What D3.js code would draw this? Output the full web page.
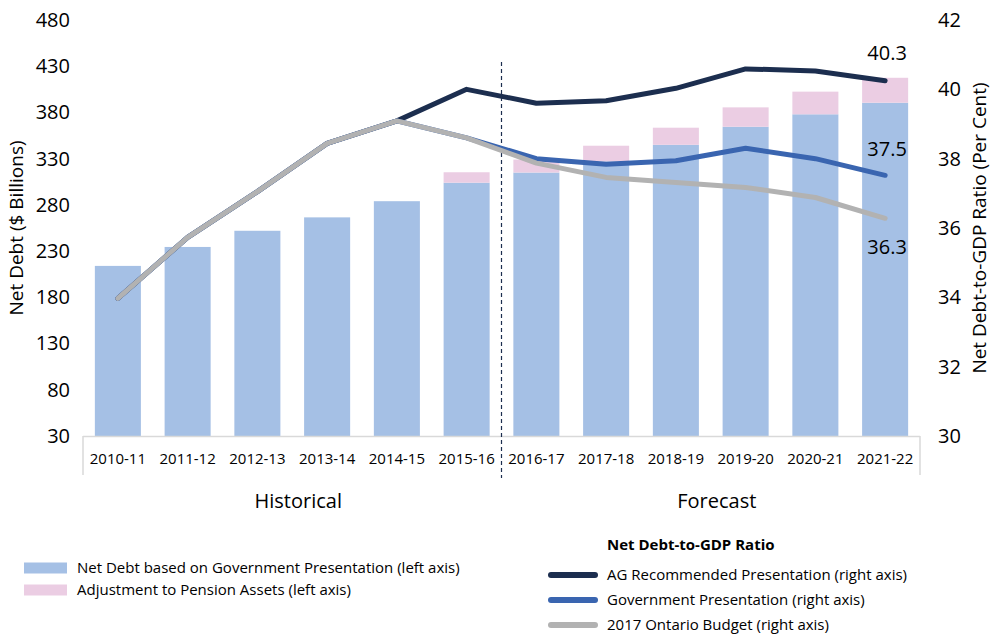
<!DOCTYPE html>
<html>
<head>
<meta charset="utf-8">
<script src="https://cdn.jsdelivr.net/npm/d3@7"></script>
<style>
  body { margin: 0; background: #fff; }
  svg { font-family: "Open Sans", "Noto Sans", sans-serif; }
</style>
</head>
<body>
<div id="chart"></div>
<script>
// data
let years = ["2010-11", "2011-12", "2012-13", "2013-14", "2014-15", "2015-16",
  "2016-17", "2017-18", "2018-19", "2019-20", "2020-21", "2021-22"];
let netDebtGov = [214, 234.5, 252, 266.5, 284, 304, 315, 327, 345, 364.5, 378, 390.5];
let pensionAdj = [0, 0, 0, 0, 0, 11.3, 14, 17, 18.5, 21, 24.5, 27];
let agRatio = [33.97, 35.73, 37.05, 38.44, 39.09, 40.0, 39.6, 39.67, 40.03, 40.59, 40.53, 40.25];
let govRatio = [33.97, 35.73, 37.05, 38.44, 39.09, 38.6, 38.0, 37.84, 37.94, 38.3, 38.0, 37.52];
let budgetRatio = [33.97, 35.73, 37.05, 38.44, 39.09, 38.6, 37.87, 37.46, 37.31, 37.17, 36.88, 36.28];
let leftTicks = [30, 80, 130, 180, 230, 280, 330, 380, 430, 480];
let rightTicks = [30, 32, 34, 36, 38, 40, 42];

let svgWidth = 993;
let svgHeight = 636;
let plot = { left: 83, right: 920, top: 20, bottom: 436 };

let colors = {
  bar: "#a5c0e5",
  pink: "#ebcde3",
  ag: "#1c2e4f",
  gov: "#3a65b0",
  budget: "#b2b2b2",
  axis: "#d9d9d9",
};

let svg = d3.select("#chart").append("svg")
  .attr("width", svgWidth)
  .attr("height", svgHeight);

// scales
let x = d3.scaleBand()
  .domain(years)
  .range([plot.left, plot.right])
  .paddingInner(0.34)
  .paddingOuter(0.17);

let yLeft = d3.scaleLinear().domain([30, 480]).range([plot.bottom, plot.top]);
let yRight = d3.scaleLinear().domain([30, 42]).range([plot.bottom, plot.top]);

let cx = (d) => x(d) + x.bandwidth() / 2;

// bars (stacked: gov presentation + pension adjustment)
let barData = years.map((y, i) => ({ year: y, base: netDebtGov[i], adj: pensionAdj[i] }));

svg.append("g").selectAll("rect")
  .data(barData)
  .enter()
  .append("rect")
  .attr("x", (d) => x(d.year))
  .attr("width", x.bandwidth())
  .attr("y", (d) => yLeft(d.base))
  .attr("height", (d) => yLeft(30) - yLeft(d.base))
  .attr("fill", colors.bar);

svg.append("g").selectAll("rect")
  .data(barData.filter((d) => d.adj > 0))
  .enter()
  .append("rect")
  .attr("x", (d) => x(d.year))
  .attr("width", x.bandwidth())
  .attr("y", (d) => yLeft(d.base + d.adj))
  .attr("height", (d) => yLeft(d.base) - yLeft(d.base + d.adj))
  .attr("fill", colors.pink);

// category box under the plot
let boxBottom = 475;
let box = svg.append("g").attr("stroke", colors.axis).attr("stroke-width", 1.5).attr("fill", "none");
box.append("line").attr("x1", plot.left).attr("x2", plot.right).attr("y1", plot.bottom + 0.5).attr("y2", plot.bottom + 0.5);
box.append("line").attr("x1", plot.left).attr("x2", plot.left).attr("y1", plot.bottom).attr("y2", boxBottom);
box.append("line").attr("x1", plot.right).attr("x2", plot.right).attr("y1", plot.bottom).attr("y2", boxBottom);

// x labels
let xAxis = svg.append("g")
  .attr("transform", `translate(0, ${plot.bottom})`)
  .call(d3.axisBottom(x).tickSize(0).tickPadding(17));
xAxis.select(".domain").remove();
xAxis.selectAll("text")
  .attr("font-size", "15px")
  .attr("font-family", "Open Sans")
  .attr("fill", "#000");

// left axis
let leftAxis = svg.append("g")
  .attr("transform", `translate(${plot.left}, 0)`)
  .call(d3.axisLeft(yLeft).tickValues(leftTicks).tickSize(0).tickPadding(13));
leftAxis.select(".domain").remove();
leftAxis.selectAll("text")
  .attr("font-size", "20px")
  .attr("font-family", "Open Sans")
  .attr("fill", "#000");

// right axis
let rightAxis = svg.append("g")
  .attr("transform", `translate(${plot.right}, 0)`)
  .call(d3.axisRight(yRight).tickValues(rightTicks).tickSize(0).tickPadding(18));
rightAxis.select(".domain").remove();
rightAxis.selectAll("text")
  .attr("font-size", "20px")
  .attr("font-family", "Open Sans")
  .attr("fill", "#000");

// axis titles
svg.append("text")
  .attr("transform", "translate(23, 228) rotate(-90)")
  .attr("text-anchor", "middle")
  .attr("font-size", "19px")
  .text("Net Debt ($ Billions)");

svg.append("text")
  .attr("transform", "translate(986, 228) rotate(-90)")
  .attr("text-anchor", "middle")
  .attr("font-size", "19px")
  .text("Net Debt-to-GDP Ratio (Per Cent)");

// historical / forecast divider
let divX = x(years[6]) - x.step() * x.paddingInner() / 2;
svg.append("line")
  .attr("x1", divX).attr("x2", divX)
  .attr("y1", 62).attr("y2", 478)
  .attr("stroke", colors.ag)
  .attr("stroke-width", 1.2)
  .attr("stroke-dasharray", "4,3");

svg.append("text")
  .attr("x", (plot.left + divX) / 2 + 6)
  .attr("y", 508)
  .attr("text-anchor", "middle")
  .attr("font-size", "20px")
  .text("Historical");

svg.append("text")
  .attr("x", (divX + plot.right) / 2 + 6)
  .attr("y", 508)
  .attr("text-anchor", "middle")
  .attr("font-size", "20px")
  .text("Forecast");

// ratio lines
let line = d3.line()
  .x((d, i) => cx(years[i]))
  .y((d) => yRight(d));

let series = [
  { values: agRatio, color: colors.ag },
  { values: govRatio, color: colors.gov },
  { values: budgetRatio, color: colors.budget },
];

svg.append("g").selectAll("path")
  .data(series)
  .enter()
  .append("path")
  .attr("d", (d) => line(d.values))
  .attr("fill", "none")
  .attr("stroke", (d) => d.color)
  .attr("stroke-width", 5)
  .attr("stroke-linejoin", "round")
  .attr("stroke-linecap", "round");

// end labels
let last = years.length - 1;
let endLabels = [
  { v: agRatio[last], dy: -21 },
  { v: govRatio[last], dy: -19 },
  { v: budgetRatio[last], dy: 36 },
];
svg.append("g").selectAll("text")
  .data(endLabels)
  .enter()
  .append("text")
  .attr("x", cx(years[last]) + 2)
  .attr("y", (d) => yRight(d.v) + d.dy)
  .attr("text-anchor", "middle")
  .attr("font-size", "20px")
  .text((d) => d.v.toFixed(1));

// legend, left block (bars)
let barLegend = [
  { label: "Net Debt based on Government Presentation (left axis)", color: colors.bar, y: 568 },
  { label: "Adjustment to Pension Assets (left axis)", color: colors.pink, y: 590 },
];
let bl = svg.append("g").selectAll("g").data(barLegend).enter().append("g");
bl.append("rect")
  .attr("x", 24).attr("y", (d) => d.y - 5.5)
  .attr("width", 43).attr("height", 11)
  .attr("fill", (d) => d.color);
bl.append("text")
  .attr("x", 77).attr("y", (d) => d.y)
  .attr("dy", "0.35em")
  .attr("font-size", "15px")
  .text((d) => d.label);

// legend, right block (lines)
svg.append("text")
  .attr("x", 607).attr("y", 545)
  .attr("dy", "0.35em")
  .attr("font-size", "15px")
  .attr("font-weight", "bold")
  .text("Net Debt-to-GDP Ratio");

let lineLegend = [
  { label: "AG Recommended Presentation (right axis)", color: colors.ag, y: 575 },
  { label: "Government Presentation (right axis)", color: colors.gov, y: 600 },
  { label: "2017 Ontario Budget (right axis)", color: colors.budget, y: 625 },
];
let ll = svg.append("g").selectAll("g").data(lineLegend).enter().append("g");
ll.append("line")
  .attr("x1", 551).attr("x2", 595)
  .attr("y1", (d) => d.y).attr("y2", (d) => d.y)
  .attr("stroke", (d) => d.color)
  .attr("stroke-width", 6)
  .attr("stroke-linecap", "round");
ll.append("text")
  .attr("x", 607).attr("y", (d) => d.y)
  .attr("dy", "0.35em")
  .attr("font-size", "15px")
  .text((d) => d.label);
</script>
</body>
</html>
